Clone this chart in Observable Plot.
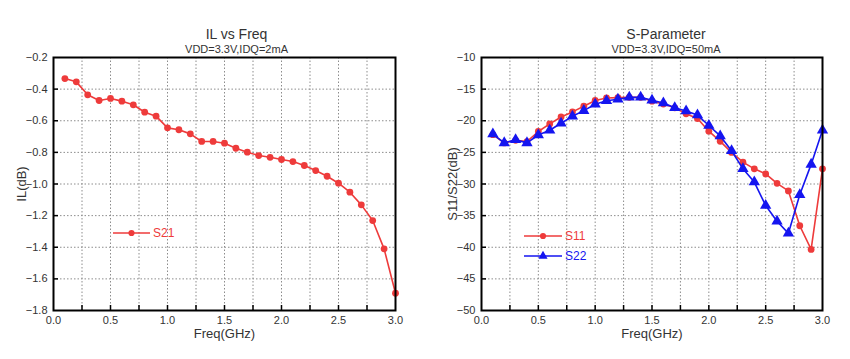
<!DOCTYPE html>
<html>
<head>
<meta charset="utf-8">
<script src="https://cdn.jsdelivr.net/npm/d3@7"></script>
<script src="https://cdn.jsdelivr.net/npm/@observablehq/plot@0.6"></script>
<style>
  html, body { margin: 0; padding: 0; background: white; }
  #wrap { position: relative; width: 850px; height: 359px; display: flex; }
  #legend { position: absolute; left: 0; top: 0; pointer-events: none; }
</style>
</head>
<body>
<div id="wrap"></div>
<script>
// ---- data ----
const freq = [0.1,0.2,0.3,0.4,0.5,0.6,0.7,0.8,0.9,1.0,1.1,1.2,1.3,1.4,1.5,1.6,1.7,1.8,1.9,2.0,2.1,2.2,2.3,2.4,2.5,2.6,2.7,2.8,2.9,3.0];
const s21 = [-0.333,-0.354,-0.436,-0.472,-0.459,-0.476,-0.499,-0.546,-0.571,-0.645,-0.657,-0.683,-0.731,-0.731,-0.742,-0.774,-0.799,-0.820,-0.831,-0.845,-0.858,-0.883,-0.915,-0.951,-0.995,-1.052,-1.132,-1.231,-1.410,-1.691];
const s11 = [-22.2,-23.5,-23.1,-23.3,-21.7,-20.5,-19.4,-18.6,-17.7,-16.8,-16.4,-16.35,-16.3,-16.3,-16.9,-17.35,-17.95,-18.9,-19.65,-21.65,-23.25,-25.0,-26.55,-27.6,-28.4,-29.9,-31.1,-36.6,-40.35,-27.6];
const s22 = [-22.1,-23.5,-23.0,-23.5,-22.25,-21.5,-20.4,-19.3,-18.4,-17.4,-16.85,-16.6,-16.3,-16.3,-16.75,-17.2,-17.95,-18.45,-19.1,-20.75,-22.4,-24.75,-27.6,-29.7,-33.4,-35.9,-37.8,-31.7,-26.9,-21.5];

const xTickLabels = [0, 0.5, 1.0, 1.5, 2.0, 2.5, 3.0];
const xMinorTicks = [0.25,0.5,0.75,1.0,1.25,1.5,1.75,2.0,2.25,2.5,2.75];
const ilTicks = [-0.2,-0.4,-0.6,-0.8,-1.0,-1.2,-1.4,-1.6,-1.8];
const spTicks = [-10,-15,-20,-25,-30,-35,-40,-45,-50];

const RED = "#ee3b3b";
const BLUE = "#1515f0";
const FONT = "'Liberation Sans', Arial, Helvetica, sans-serif";

function panel(opts) {
  const W = 425, H = 359, mt = 57, mb = 49;
  const plotW = W - opts.ml - opts.mr, plotH = H - mt - mb;
  const yDomain = [d3.min(opts.yTicks), d3.max(opts.yTicks)];
  const innerY = opts.yTicks.filter(v => v !== yDomain[0] && v !== yDomain[1]);
  const marks = [
    Plot.gridX(xMinorTicks.filter(v => v < 3), {stroke: "#8c8c8c", strokeOpacity: 1, strokeDasharray: "1.5,2"}),
    Plot.gridY(innerY, {stroke: "#8c8c8c", strokeOpacity: 1, strokeDasharray: "1.5,2"}),
    Plot.ruleX(xMinorTicks, {stroke: "black", strokeWidth: 1.5, insetTop: plotH - 5}),
    Plot.ruleY(innerY, {stroke: "black", strokeWidth: 1.5, insetRight: plotW - 5}),
    Plot.axisX(xTickLabels, {tickSize: 0, tickPadding: 6, tickFormat: d3.format(".1f"), label: null, fill: "#333", fontSize: 11}),
    Plot.axisY(opts.yTicks, {tickSize: 0, tickPadding: 6, tickFormat: opts.yFormat, label: null, fill: "#333", fontSize: 11}),
    Plot.text(["Freq(GHz)"], {frameAnchor: "bottom", dy: 23, lineAnchor: "middle", fontSize: 13, fill: "#333"}),
    Plot.text([opts.yLabel], {frameAnchor: "left", dx: opts.yLabelDx, rotate: -90, textAnchor: "middle", lineAnchor: "middle", fontSize: 13, fill: "#333"}),
    Plot.text([opts.title], {frameAnchor: "top", dx: opts.titleDx, dy: -23, lineAnchor: "middle", fontSize: 14, fill: "#333"}),
    Plot.text([opts.subtitle], {frameAnchor: "top", dx: opts.titleDx, dy: -8, lineAnchor: "middle", fontSize: 11, fill: "#333"})
  ];
  for (const s of opts.series) {
    const data = freq.map((f, i) => ({f, v: s.values[i]}));
    marks.push(Plot.line(data, {x: "f", y: "v", stroke: s.color, strokeWidth: 1.6}));
    marks.push(Plot.dot(data, {x: "f", y: "v", fill: s.color, stroke: "none", r: s.r, symbol: s.symbol}));
  }
  marks.push(Plot.frame({stroke: "black", strokeWidth: 2}));
  return Plot.plot({
    width: W, height: H,
    marginTop: mt, marginBottom: mb, marginLeft: opts.ml, marginRight: opts.mr,
    x: {domain: [0, 3]},
    y: {domain: yDomain},
    style: {fontFamily: FONT, fontSize: "11px", background: "white", overflow: "visible"},
    marks
  });
}

const wrap = document.getElementById("wrap");
wrap.appendChild(panel({
  ml: 53, mr: 30,
  yTicks: ilTicks, yFormat: d3.format(".1f"),
  yLabel: "IL(dB)", yLabelDx: -32,
  title: "IL vs Freq", subtitle: "VDD=3.3V,IDQ=2mA", titleDx: 12,
  series: [{values: s21, color: RED, r: 3.4, symbol: "circle"}]
}));
wrap.appendChild(panel({
  ml: 56, mr: 28,
  yTicks: spTicks, yFormat: d3.format("d"),
  yLabel: "S11/S22(dB)", yLabelDx: -29,
  title: "S-Parameter", subtitle: "VDD=3.3V,IDQ=50mA", titleDx: 14,
  series: [
    {values: s11, color: RED, r: 3.4, symbol: "circle"},
    {values: s22, color: BLUE, r: 4.2, symbol: "triangle"}
  ]
}));

// ---- legends (overlay) ----
const legendItems = [
  {label: "S21", color: RED, symbol: d3.symbolCircle, size: 30, x1: 113, x2: 150, y: 233},
  {label: "S11", color: RED, symbol: d3.symbolCircle, size: 30, x1: 524, x2: 562, y: 236},
  {label: "S22", color: BLUE, symbol: d3.symbolTriangle, size: 36, x1: 524, x2: 562, y: 256}
];
const lg = d3.select("#wrap").append("svg").attr("id", "legend").attr("width", 850).attr("height", 359);
for (const it of legendItems) {
  lg.append("line").attr("x1", it.x1).attr("x2", it.x2).attr("y1", it.y).attr("y2", it.y)
    .attr("stroke", it.color).attr("stroke-width", 1.6);
  lg.append("path").attr("d", d3.symbol(it.symbol, it.size)())
    .attr("transform", `translate(${(it.x1 + it.x2) / 2},${it.y})`).attr("fill", it.color);
  lg.append("text").attr("x", it.x2 + 3).attr("y", it.y).attr("dy", "0.35em")
    .attr("fill", it.color).attr("font-family", FONT).attr("font-size", 12).text(it.label);
}
</script>
</body>
</html>
